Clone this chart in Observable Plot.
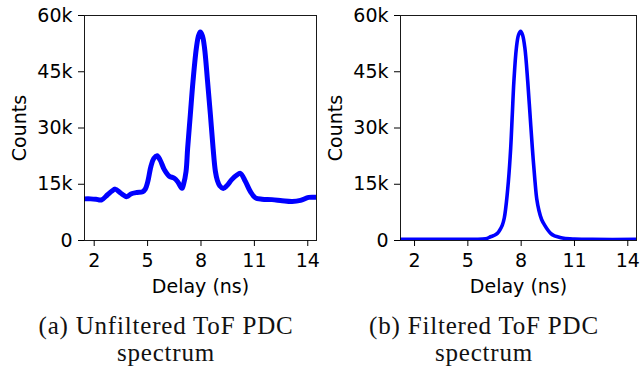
<!DOCTYPE html>
<html><head><meta charset="utf-8">
<script src="https://cdn.jsdelivr.net/npm/d3@7"></script>
<script src="https://cdn.jsdelivr.net/npm/@observablehq/plot@0.6"></script>
<style>
body{margin:0;background:#fff;}
#wrap{position:relative;width:640px;height:366px;overflow:hidden;background:#fff;}
.panel{position:absolute;top:0;}
.cap{position:absolute;width:320px;font-family:"Liberation Serif",serif;font-size:25px;letter-spacing:0.8px;color:#111;text-align:center;line-height:27px;white-space:nowrap;}
</style></head><body>
<div id="wrap">
<div id="a" class="panel" style="left:0"></div>
<div id="b" class="panel" style="left:320px"></div>
<div class="cap" style="left:6px;top:312px">(a) Unfiltered ToF PDC<br>spectrum</div>
<div class="cap" style="left:324px;top:312px">(b) Filtered ToF PDC<br>spectrum</div>
</div>
<script>
const xTicks = [2, 5, 8, 11, 14];
const yTicks = [0, 15000, 30000, 45000, 60000];

// (a) Unfiltered spectrum
const unfilteredDelay = [1.46, 1.8, 2.1, 2.4, 2.75, 3.0, 3.18, 3.5, 3.84, 4.06, 4.4, 4.72, 4.87, 5.0, 5.19, 5.35, 5.53, 5.7, 5.94, 6.2, 6.5, 6.7, 6.93, 7.02, 7.16, 7.25, 7.40, 7.55, 7.74, 7.86, 7.96, 8.08, 8.20, 8.37, 8.53, 8.68, 8.81, 8.92, 9.05, 9.25, 9.45, 9.74, 10.0, 10.21, 10.49, 10.77, 11.05, 11.43, 11.99, 12.56, 13.12, 13.59, 14.05, 14.49];
const unfilteredCounts = [11100, 11100, 11000, 10800, 12200, 13200, 13700, 12600, 11700, 12400, 12800, 13000, 13700, 15500, 19800, 21900, 22600, 21500, 18900, 17200, 16600, 15600, 13900, 15000, 18400, 24600, 33500, 42400, 51300, 54600, 55600, 54600, 51300, 42400, 33500, 24600, 18400, 16000, 14600, 13900, 14600, 16300, 17400, 17900, 15800, 13100, 11400, 11000, 10900, 10600, 10400, 10700, 11500, 11500];

// (b) Filtered spectrum
const filteredDelay = [1.22, 3.0, 5.0, 6.0, 6.28, 6.5, 6.66, 6.8, 6.94, 7.05, 7.13, 7.28, 7.41, 7.50, 7.59, 7.73, 7.85, 7.97, 8.08, 8.21, 8.37, 8.50, 8.63, 8.78, 8.88, 9.00, 9.15, 9.32, 9.50, 9.66, 9.85, 10.04, 10.4, 11.0, 12.0, 14.49];
const filteredCounts = [300, 300, 350, 450, 1000, 1400, 1900, 2800, 4100, 6000, 8600, 15700, 24600, 33500, 42400, 51300, 54800, 55800, 54800, 51300, 42400, 33500, 24600, 15700, 11000, 8000, 5600, 4100, 2800, 1900, 1300, 1000, 600, 400, 300, 300];

function panel(delays, counts, xDomain, marginLeft, sw) {
  const data = delays.map((d, i) => ({delay: d, count: counts[i]}));
  return Plot.plot({
    width: 320, height: 300,
    marginLeft, marginRight: 4, marginTop: 15, marginBottom: 60,
    x: {domain: xDomain},
    y: {domain: [0, 60000]},
    style: {fontFamily: "DejaVu Sans", fontSize: "19px", color: "black", background: "white", overflow: "visible"},
    marks: [
      Plot.axisX(xTicks, {tickSize: 6, tickPadding: 7, label: "Delay (ns)", labelAnchor: "center", labelArrow: "none", labelOffset: 52, stroke: "black", strokeOpacity: 1}),
      Plot.axisY(yTicks, {tickSize: 6, tickPadding: 6, tickFormat: d => d === 0 ? "0" : d / 1000 + "k", label: "Counts", labelAnchor: "center", labelArrow: "none", labelOffset: 72, stroke: "black", strokeOpacity: 1}),
      Plot.line(data, {x: "delay", y: "count", stroke: "#0000ff", strokeWidth: sw, curve: "catmull-rom", clip: true}),
      Plot.frame({stroke: "black", strokeOpacity: 0.9})
    ]
  });
}
document.getElementById("a").append(panel(unfilteredDelay, unfilteredCounts, [1.455, 14.49], 84, 5));
document.getElementById("b").append(panel(filteredDelay, filteredCounts, [1.21, 14.49], 80, 3.6));
</script>
</body></html>
